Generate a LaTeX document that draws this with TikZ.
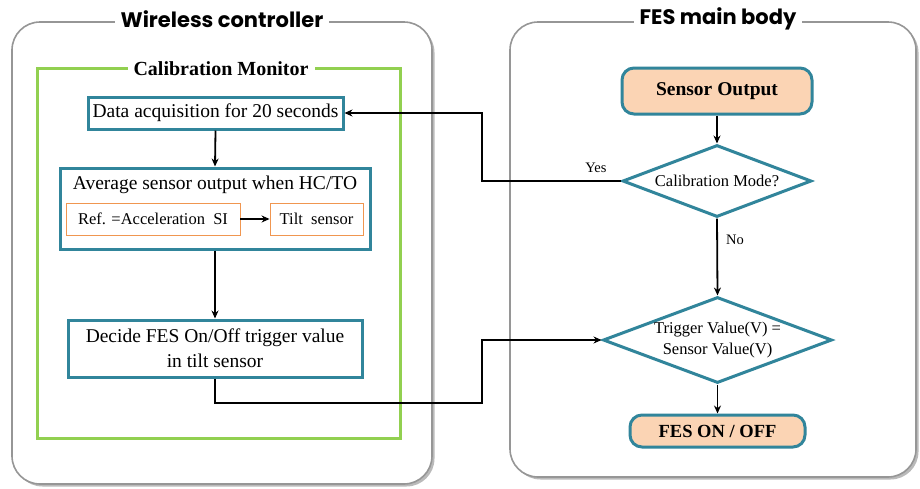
\documentclass[tikz,border=0pt]{standalone}
\usepackage{fontspec}
\setmainfont{Liberation Serif}
\newfontfamily\titlefont{Poppins}
\usetikzlibrary{shapes.geometric,arrows.meta,shadows}
\definecolor{tealb}{RGB}{49,133,155}
\definecolor{greenb}{RGB}{146,208,80}
\definecolor{orangeb}{RGB}{240,150,80}
\definecolor{peach}{RGB}{251,212,180}
\definecolor{grayb}{RGB}{150,150,150}
\tikzset{
  outerbox/.style={draw=grayb, line width=1.6pt, fill=white, rounded corners=28pt,
     drop shadow={shadow xshift=2.5pt, shadow yshift=-2.5pt, opacity=0.45, fill=black!60}},
  bigtitle/.style={fill=white, inner xsep=6pt, inner ysep=1pt, font=\titlefont\bfseries\fontsize{21}{25}\selectfont},
  monbox/.style={draw=greenb, line width=3pt},
  montitle/.style={fill=white, inner xsep=6pt, inner ysep=1pt, font=\bfseries\fontsize{20}{24}\selectfont},
  tealbox/.style={draw=tealb, line width=3pt, fill=white, inner sep=0pt, align=center},
  refbox/.style={draw=orangeb, line width=0.9pt, inner sep=0pt, font=\fontsize{16.5}{19}\selectfont},
  pbox/.style={draw=tealb, line width=3pt, fill=peach, rounded corners=12pt, inner sep=0pt, font=\bfseries\fontsize{19.5}{23}\selectfont},
  dia/.style={diamond, draw=tealb, line width=3pt, fill=white, align=center, font=\fontsize{16.5}{21}\selectfont},
  conn/.style={draw=black, line width=1.8pt, -{Stealth[length=8pt,width=7pt]}},
  lbl/.style={font=\fontsize{14.5}{17}\selectfont, inner sep=0pt}
}
\begin{document}
\begin{tikzpicture}[x=1pt,y=-1pt]
\useasboundingbox (0,0) rectangle (920,488);
% outer boxes
\path[outerbox] (12,22) rectangle (432,484);
\path[outerbox] (510,22) rectangle (916,477);
\node[bigtitle] (wt) at (222,19) {Wireless controller};
\node[bigtitle] (ft) at (718,19) {FES main body};
% calibration monitor frame
\draw[monbox] (37,68) rectangle (400,438);
\node[montitle] (mt) at (221,69) {Calibration Monitor};
% left flow
\node[tealbox, minimum width=255pt, minimum height=32pt, font=\fontsize{19.5}{23}\selectfont] (b1) at (215.5,113) {Data acquisition for 20 seconds};
\node[tealbox, minimum width=310pt, minimum height=81pt] (b2) at (215,208.5) {};
\node[font=\fontsize{19.5}{23}\selectfont, inner sep=0pt] (b2t) at (215,185) {Average sensor output when HC/TO};
\node[refbox, minimum width=174pt, minimum height=32pt] (ref) at (153,219) {Ref. =Acceleration~ SI};
\node[refbox, minimum width=93pt, minimum height=32pt] (tilt) at (316.5,219) {Tilt~ sensor};
\node[tealbox, minimum width=294pt, minimum height=57pt, font=\fontsize{19.5}{25}\selectfont] (b3) at (215,348.5) {Decide FES On/Off trigger value\\in tilt sensor};
% right flow
\node[pbox, minimum width=190pt, minimum height=46pt] (so) at (717,91) {Sensor Output};
\node[dia, aspect=2.625, inner sep=0pt, minimum width=189pt, minimum height=72pt] (d1) at (717,181) {Calibration Mode?};
\node[dia, aspect=2.66, inner sep=-4pt, minimum width=229pt, minimum height=86pt] (d2) at (717.5,340) {Trigger Value(V) =\\Sensor Value(V)};
\node[pbox, minimum width=175pt, minimum height=32pt, font=\bfseries\fontsize{18.5}{22}\selectfont] (fo) at (717.5,431) {FES ON / OFF};
% connectors
\coordinate (cy) at (482,113);
\coordinate (cr) at (482,403);
\draw[conn] (b1.south) -- (b2.north);
\draw[conn] (ref.east) -- (tilt.west);
\draw[conn] (b2.south) -- (b3.north);
\draw[conn] (so.south) -- (d1.north);
\draw[conn] (d1.west) -| (cy) -- (b1.east);
\draw[conn] (d1.south) -- (d2.north);
\draw[conn] (d2.south) -- (fo.north);
\draw[conn] (b3.south) |- (cr) |- (d2.west);
\node[lbl] (yes) at (596,168) {Yes};
\node[lbl] (no) at (735,240) {No};
\end{tikzpicture}
\end{document}
